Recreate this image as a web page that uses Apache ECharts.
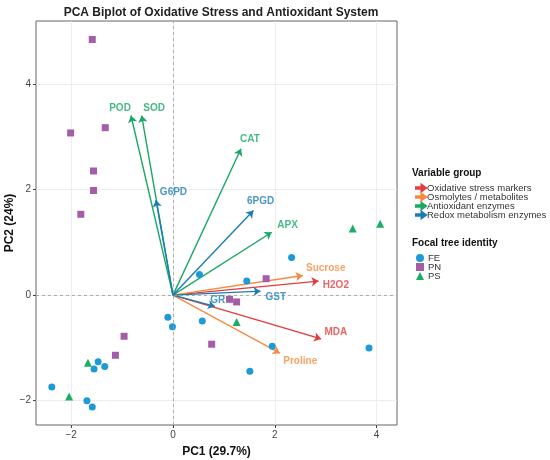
<!DOCTYPE html>
<html>
<head>
<meta charset="utf-8">
<script src="https://cdn.jsdelivr.net/npm/echarts@6/dist/echarts.min.js"></script>
<style>
  html, body { margin: 0; padding: 0; background: #fff; }
  #chart { width: 550px; height: 460px; }
</style>
</head>
<body>
<div id="chart"></div>
<script>
// sample scores (PC1, PC2) per focal tree identity
const feScores = [[0.52, 0.39], [1.45, 0.265], [2.33, 0.71], [0.576, -0.49], [1.95, -0.97], [3.85, -1.0],
  [1.51, -1.44], [-0.01, -0.60], [-0.10, -0.42], [-1.47, -1.26], [-1.55, -1.40], [-1.34, -1.35],
  [-2.38, -1.74], [-1.69, -2.00], [-1.585, -2.12]];
const pnScores = [[-1.585, 4.84], [-2.01, 3.07], [-1.33, 3.17], [-1.56, 2.35], [-1.56, 1.98], [-1.81, 1.53],
  [1.83, 0.31], [1.11, -0.08], [1.25, -0.13], [0.76, -0.93], [-0.96, -0.78], [-1.13, -1.14]];
const psScores = [[3.53, 1.26], [4.07, 1.35], [1.25, -0.51], [-1.67, -1.28], [-2.04, -1.92]];

// variable loadings (arrow tips) and label anchors
const varNames = ['H2O2', 'MDA', 'Sucrose', 'Proline', 'POD', 'SOD', 'CAT', 'APX', 'G6PD', '6PGD', 'GST', 'GR'];
const varGroup = [0, 0, 1, 1, 2, 2, 2, 2, 3, 3, 3, 3];
const loadX = [2.86, 2.91, 2.55, 2.10, -0.825, -0.615, 1.336, 1.94, -0.334, 1.58, 1.72, 0.825];
const loadY = [0.265, -0.83, 0.37, -1.10, 3.40, 3.40, 2.77, 1.19, 1.80, 1.60, 0.075, -0.215];
const labelX = [3.20, 3.20, 3.00, 2.50, -1.04, -0.37, 1.51, 2.25, 0.01, 1.72, 2.02, 0.88];
const labelY = [0.19, -0.71, 0.51, -1.26, 3.53, 3.53, 2.95, 1.33, 1.95, 1.77, -0.05, -0.10];

const groupNames = ['Oxidative stress markers', 'Osmolytes / metabolites', 'Antioxidant enzymes', 'Redox metabolism enzymes'];
const groupColors = ['#E63B3B', '#F8893C', '#19A865', '#1B7DB4'];
const treeNames = ['FE', 'PN', 'PS'];
const treeColors = ['#1D9AD8', '#A45DA7', '#1AAE64'];

const tickValues = [-2, 0, 2, 4];
const FONT = '"Liberation Sans", Arial, Helvetica, sans-serif';
const arrowIcon = 'path://M0,3.3 L5.5,3.3 L5.5,0.8 L10,4 L5.5,7.2 L5.5,4.7 L0,4.7 Z';
const fmtTick = v => String(v).replace('-', '\u2212');

const chart = echarts.init(document.getElementById('chart'));

// arrows: one lines series per variable group
const arrowSeries = groupNames.map((g, gi) => ({
  type: 'lines',
  name: g,
  coordinateSystem: 'cartesian2d',
  symbol: ['none', 'arrow'],
  symbolSize: 7,
  silent: true,
  z: 3,
  lineStyle: { color: groupColors[gi], width: 1.4, opacity: 1 },
  itemStyle: { color: groupColors[gi] },
  data: varNames.map((n, i) => ({ n, i }))
    .filter(d => varGroup[d.i] === gi)
    .map(d => ({ coords: [[0, 0], [loadX[d.i], loadY[d.i]]] }))
}));

const scoreData = [feScores, pnScores, psScores];
const treeSymbols = ['circle', 'rect', 'triangle'];
const treeSizes = [7, 7, 8];
const pointSeries = treeNames.map((t, ti) => ({
  type: 'scatter',
  name: t,
  symbol: treeSymbols[ti],
  symbolSize: treeSizes[ti],
  itemStyle: { color: treeColors[ti], opacity: 1 },
  z: 4,
  data: scoreData[ti]
}));

const labelSeries = {
  type: 'scatter',
  name: 'labels',
  symbolSize: 0,
  silent: true,
  z: 5,
  data: varNames.map((n, i) => ({
    name: n,
    value: [labelX[i], labelY[i]],
    label: { color: groupColors[varGroup[i]] }
  })),
  label: {
    show: true,
    position: 'inside',
    formatter: p => p.name,
    fontFamily: FONT,
    fontWeight: 'bold',
    fontSize: 10,
    textBorderWidth: 0
  },
  markLine: {
    silent: true,
    symbol: 'none',
    label: { show: false },
    lineStyle: { color: '#9a9a9a', type: [3, 3], width: 0.8 },
    data: [{ xAxis: 0 }, { yAxis: 0 }]
  }
};

chart.setOption({
  animation: false,
  backgroundColor: '#fff',
  title: {
    text: 'PCA Biplot of Oxidative Stress and Antioxidant System',
    left: 216,
    top: 2,
    textAlign: 'center',
    textStyle: { fontFamily: FONT, fontWeight: 'bold', fontSize: 12, color: '#222' }
  },
  graphic: [
    { type: 'text', left: 412, top: 168, style: { text: 'Variable group', font: 'bold 10px ' + FONT, fill: '#111' } },
    { type: 'text', left: 412, top: 238, style: { text: 'Focal tree identity', font: 'bold 10px ' + FONT, fill: '#111' } }
  ],
  legend: [
    {
      orient: 'vertical',
      left: 410,
      top: 178,
      itemWidth: 10,
      itemHeight: 8,
      itemGap: -1,
      data: groupNames.map((g, gi) => ({ name: g, icon: arrowIcon, itemStyle: { color: groupColors[gi] } })),
      textStyle: { fontFamily: FONT, fontSize: 9.5, color: '#333', padding: [0, 0, 0, -4], lineHeight: 8 }
    },
    {
      orient: 'vertical',
      left: 411,
      top: 248,
      itemWidth: 8,
      itemHeight: 8,
      itemGap: -1,
      data: treeNames.map((t, ti) => ({ name: t, icon: treeSymbols[ti] })),
      textStyle: { fontFamily: FONT, fontSize: 9.5, color: '#333', padding: [0, 0, 0, -1], lineHeight: 8 }
    }
  ],
  grid: {
    left: 36, right: 153, top: 21, bottom: 35,
    outerBoundsMode: 'none',
    containLabel: false,
    show: true, borderColor: '#666', borderWidth: 1, backgroundColor: 'transparent'
  },
  xAxis: {
    type: 'value',
    min: -2.69, max: 4.40,
    name: 'PC1 (29.7%)',
    nameLocation: 'middle',
    nameGap: 21,
    nameMoveOverlap: false,
    nameTextStyle: { fontFamily: FONT, fontWeight: 'bold', fontSize: 12, color: '#111' },
    axisLine: { show: false, onZero: false },
    axisTick: { show: true, length: 3, customValues: tickValues, lineStyle: { color: '#444' } },
    axisLabel: { customValues: tickValues, formatter: fmtTick, margin: 5, fontFamily: FONT, fontSize: 10, color: '#444' },
    splitLine: { show: true, lineStyle: { color: '#e8e8e8', width: 0.8 } }
  },
  yAxis: {
    type: 'value',
    min: -2.46, max: 5.19,
    name: 'PC2 (24%)',
    nameLocation: 'middle',
    nameGap: 20,
    nameMoveOverlap: false,
    nameTextStyle: { fontFamily: FONT, fontWeight: 'bold', fontSize: 12, color: '#111' },
    axisLine: { show: false, onZero: false },
    axisTick: { show: true, length: 3, customValues: tickValues, lineStyle: { color: '#444' } },
    axisLabel: { customValues: tickValues, formatter: fmtTick, margin: 5, fontFamily: FONT, fontSize: 10, color: '#444' },
    splitLine: { show: true, lineStyle: { color: '#e8e8e8', width: 0.8 } }
  },
  series: [labelSeries].concat(arrowSeries, pointSeries)
});
</script>
</body>
</html>
